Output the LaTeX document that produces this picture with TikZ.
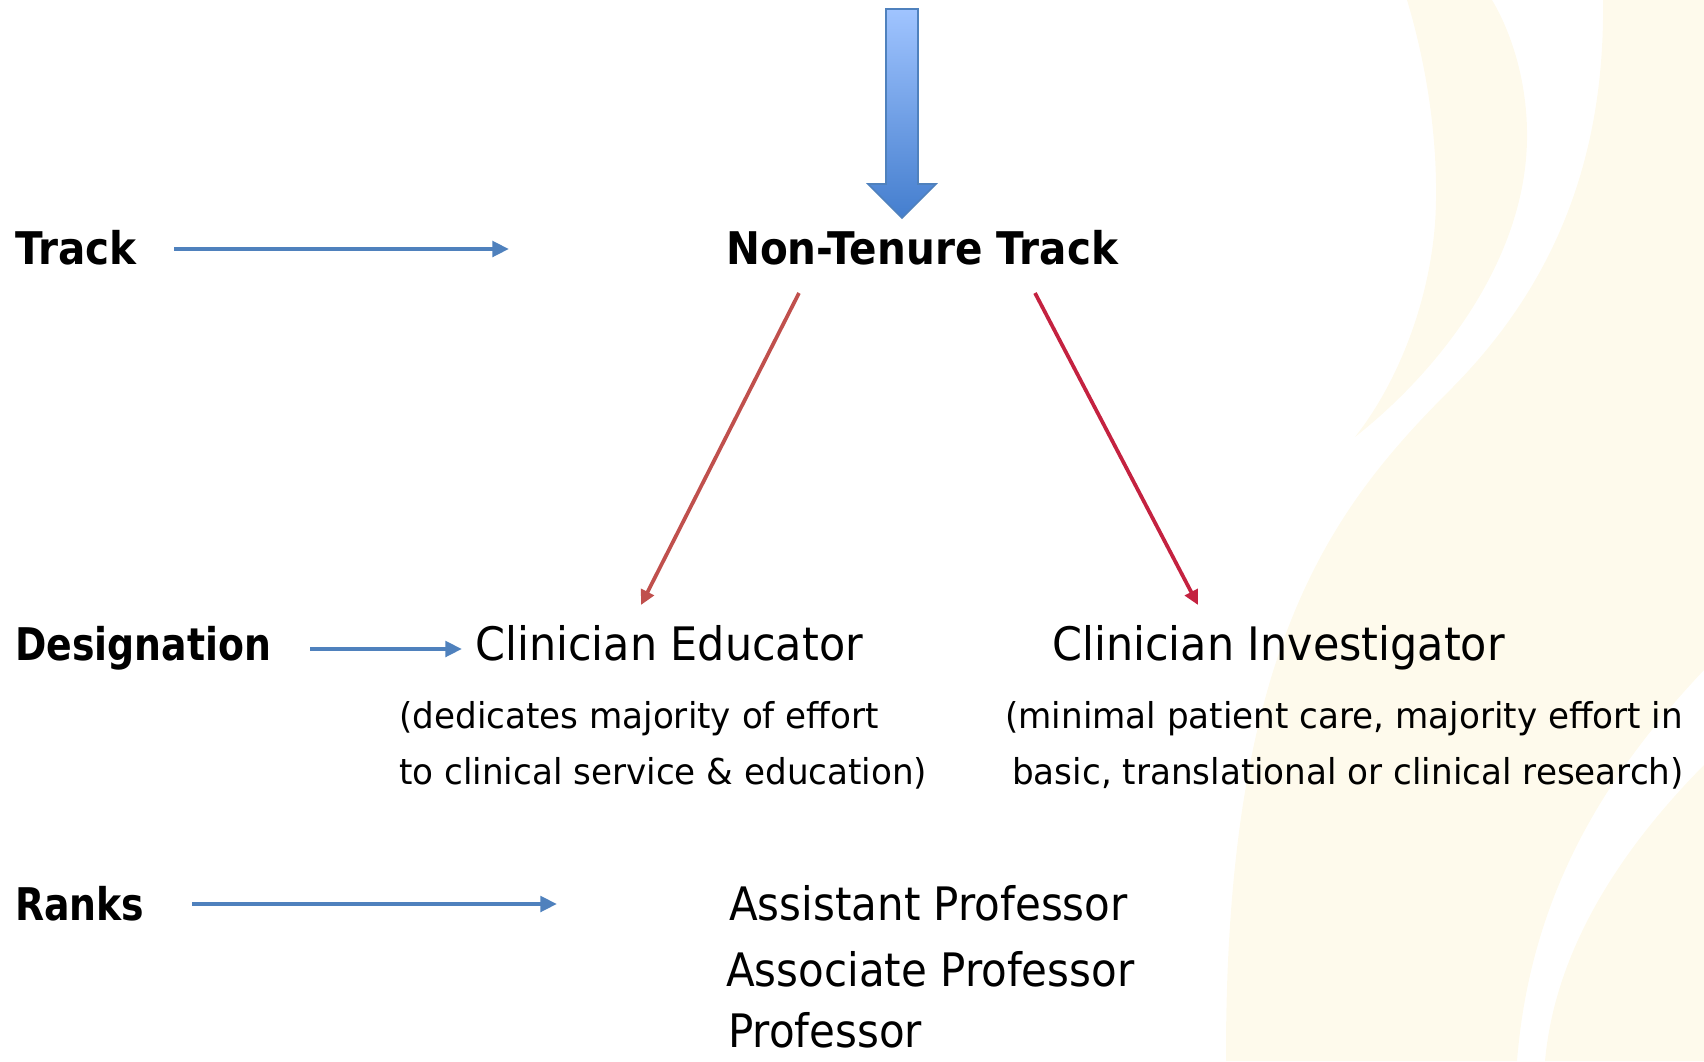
\documentclass[tikz,border=0pt]{standalone}
\usepackage{fontspec}
\setmainfont{DejaVu Sans}[FakeStretch=0.88]
\newfontfamily\trackfont{DejaVu Sans}[FakeStretch=0.90]
\newfontfamily\sidefont{DejaVu Sans}[FakeStretch=0.84]
\newfontfamily\namefont{DejaVu Sans}[FakeStretch=0.93]
\newfontfamily\rankfont{DejaVu Sans}[FakeStretch=0.91]
\newfontfamily\notefont{DejaVu Sans}[FakeStretch=0.96]
\usetikzlibrary{arrows.meta,calc}

\definecolor{swoosh}{RGB}{254,250,236}
\definecolor{arrowblue}{RGB}{79,129,189}
\definecolor{eduRed}{RGB}{192,80,77}
\definecolor{invRed}{RGB}{196,34,64}
\definecolor{blockTop}{RGB}{160,196,255}
\definecolor{blockBot}{RGB}{68,126,206}

\tikzset{
  headtxt/.style={anchor=base west, inner sep=0pt, font=\trackfont\bfseries\fontsize{33.75}{40}\selectfont},
  sidetxt/.style={anchor=base west, inner sep=0pt, font=\sidefont\bfseries\fontsize{33.75}{40}\selectfont},
  nametxt/.style={anchor=base west, inner sep=0pt, font=\namefont\fontsize{34.6}{40}\selectfont},
  ranktxt/.style={anchor=base west, inner sep=0pt, font=\rankfont\fontsize{34.6}{40}\selectfont},
  notetxt/.style={anchor=base west, inner sep=0pt, font=\notefont\fontsize{26.7}{30}\selectfont},
  bluearrow/.style={draw=arrowblue, line width=3.6pt, -{Triangle[length=12.5pt,width=11.5pt]}},
  redarrow/.style={line width=2.8pt, -{Triangle[length=11pt,width=10.5pt]}},
}

\begin{document}
\begin{tikzpicture}[x=0.75pt,y=0.75pt,yscale=-1,xscale=1]
\useasboundingbox (0,0) rectangle (1704,1061);
\clip (0,0) rectangle (1704,1061);

%Shape: background swooshes
\fill[swoosh] (1407,0) .. controls (1425,60) and (1437,130) .. (1436,200) .. controls (1435,290) and (1400,380) .. (1355,437) .. controls (1440,370) and (1525,260) .. (1527,140) .. controls (1528,80) and (1510,30) .. (1492,0) -- cycle;
\fill[swoosh] (1603,0) .. controls (1605,150) and (1560,280) .. (1450,390) .. controls (1330,510) and (1225,650) .. (1226,1061) -- (1517,1061) .. controls (1530,900) and (1600,780) .. (1704,670) -- (1704,0) -- cycle;
\fill[swoosh] (1704,765) .. controls (1620,850) and (1555,950) .. (1545,1061) -- (1704,1061) -- cycle;

%Shape: block arrow
\shade[top color=blockTop, bottom color=blockBot, draw=arrowblue, line width=1.2pt] (886,9) -- (918,9) -- (918,184) -- (936,184) -- (902,218) -- (868,184) -- (886,184) -- cycle;

% Text Node
\node[headtxt] (track) at (15,264) {Track};
% Text Node
\node[headtxt] (ntt) at (726,264) {Non-Tenure Track};
% Text Node
\node[sidetxt] (desig) at (15,660) {Designation};
% Text Node
\node[nametxt] (ce) at (475,660) {Clinician Educator};
% Text Node
\node[nametxt] (ci) at (1052,660) {Clinician Investigator};
% Text Node
\node[notetxt] (ce1) at (399,728) {(dedicates majority of effort};
\node[notetxt] (ce2) at (399,784) {to clinical service \& education)};
% Text Node
\node[notetxt] (ci1) at (1005,728) {(minimal patient care, majority effort in};
\node[notetxt] (ci2) at (1012,784) {basic, translational or clinical research)};
% Text Node
\node[sidetxt] (ranks) at (15,920) {Ranks};
% Text Node
\node[ranktxt] (r1) at (729,920) {Assistant Professor};
\node[ranktxt] (r2) at (726,986) {Associate Professor};
\node[ranktxt] (r3) at (728,1047) {Professor};

\coordinate (trackEnd) at (509,249);
\coordinate (ranksEnd) at (557,904);

%Straight Lines
\draw[bluearrow] ($(track.base west)+(159,-15)$) -- (trackEnd);
\draw[bluearrow] ($(desig.base west)+(295,-11)$) -- ($(ce.base west)+(-13,-11)$);
\draw[bluearrow] ($(ranks.base west)+(177,-16)$) -- (ranksEnd);
%Straight Lines
\draw[redarrow, eduRed] ($(ntt.base west)+(73,29)$) -- ($(ce.base west)+(166,-55)$);
\draw[redarrow, invRed] ($(ntt.base west)+(309,29)$) -- ($(ci.base west)+(146,-55)$);
\end{tikzpicture}
\end{document}
